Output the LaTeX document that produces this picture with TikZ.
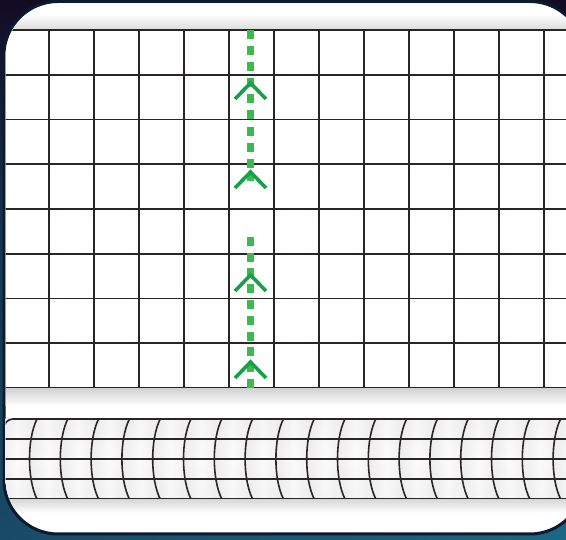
\documentclass[tikz,border=0pt]{standalone}
\usetikzlibrary{calc}
\definecolor{bgtop}{HTML}{120C24}
\definecolor{bgbot}{HTML}{1D6784}
\definecolor{rimcol}{HTML}{0B1A2E}
\definecolor{gridcol}{HTML}{2A2626}
\definecolor{dashgreen}{HTML}{3DBA4E}
\definecolor{chevgreen}{HTML}{17A04A}
\tikzset{
  gridline/.style={draw=gridcol, line width=1.8pt},
  cylline/.style={draw=gridcol, line width=1.6pt},
  greendash/.style={draw=dashgreen, line width=6.5pt, dash pattern=on 9pt off 7.1pt},
  chevron/.style={draw=chevgreen, line width=3.6pt, line join=miter},
}
\begin{document}
\begin{tikzpicture}[x=1pt,y=-1pt]
\useasboundingbox (0,0) rectangle (566,540);
% background
\shade[top color=bgtop, bottom color=bgbot] (0,0) rectangle (566,540);
\shade[left color=bgtop!60!bgbot, right color=bgbot, opacity=0.5] (0,300) rectangle (566,540);
% panel
\path[fill=white, draw=rimcol, line width=3pt, rounded corners=54pt] (4,1.5) rectangle (584,534);
\begin{scope}
\clip[rounded corners=54pt] (5.5,3) rectangle (582,532.5);
% top shadow band
\shade[top color=white, bottom color=gray!28] (0,14) rectangle (570,30);
% grid
\fill[white] (0,30) rectangle (570,388);
\foreach \i in {0,...,8} {
  \draw[gridline] (0,{30+44.75*\i}) -- (570,{30+44.75*\i});
}
\foreach \i in {0,...,12} {
  \draw[gridline] ({4+45*\i},30) -- ({4+45*\i},388);
}
% shadow below grid
\shade[top color=gray!35, bottom color=white] (0,389) rectangle (570,406);
% cylinder
\shade[top color=gray!14, bottom color=gray!14, middle color=gray!5] (5,419) rectangle (570,499);
\foreach \k in {0,...,18} {
  \pgfmathsetmacro{\xa}{29+30.8*(\k-1)}
  \pgfmathsetmacro{\xb}{29+30.8*\k}
  \shade[left color=gray!22, right color=gray!18, middle color=gray!2, opacity=0.6]
    (\xa+8,419) .. controls (\xa-2,439) and (\xa-2,479) .. (\xa+8,499)
    -- (\xb+8,499) .. controls (\xb-2,479) and (\xb-2,439) .. (\xb+8,419) -- cycle;
}
\foreach \k in {0,...,18} {
  \pgfmathsetmacro{\xb}{29+30.8*\k}
  \draw[cylline] (\xb+8,419) .. controls (\xb-2,439) and (\xb-2,479) .. (\xb+8,499);
}
\draw[cylline, rounded corners=9pt] (4,440) |- (570,419);
\foreach \y in {439,459,479,499} {
  \draw[cylline] (0,\y) -- (570,\y);
}
% shadow below cylinder
\shade[top color=gray!30, bottom color=white] (0,500) rectangle (570,513);
\end{scope}
% green dashed path
\coordinate (d1s) at (250.5,30);
\coordinate (d1e) at (250.5,181);
\coordinate (d2s) at (250.5,237);
\coordinate (d2e) at (250.5,388);
\draw[greendash] (d1s) -- (d1e);
\draw[greendash, dash pattern=on 9pt off 6.8pt] (d2e) -- (d2s);
% chevrons
\foreach \ay/\nm in {83/c1,172/c2,275/c3,362/c4} {
  \coordinate (\nm) at (250.5,\ay);
  \draw[chevron] ($(\nm)+(-15.5,16)$) -- (\nm) -- ($(\nm)+(15.5,16)$);
}
\end{tikzpicture}
\end{document}
